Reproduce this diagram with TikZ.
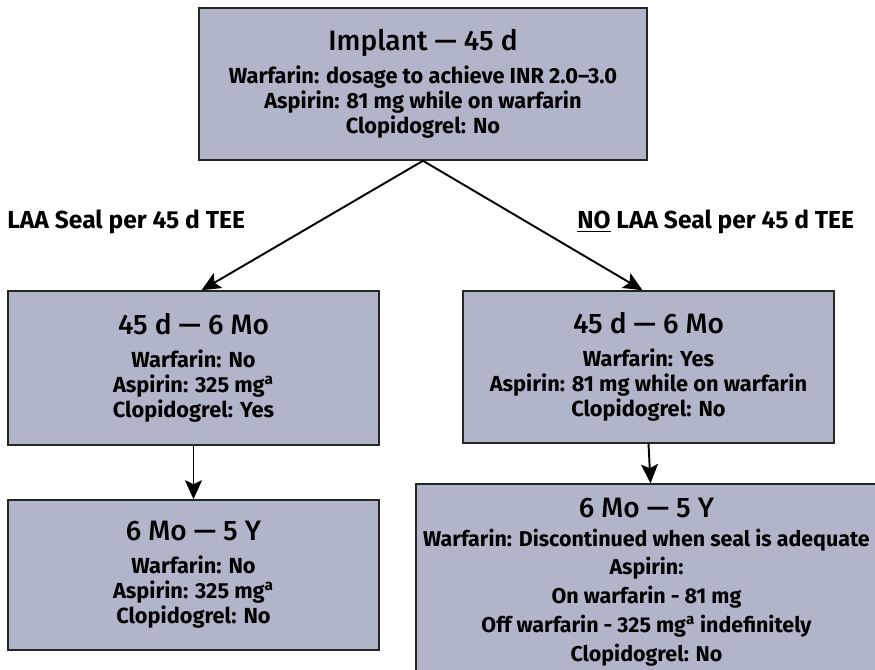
\documentclass[tikz,border=0pt]{standalone}
\usepackage{fontspec}
\setmainfont{Fira Sans}
\newfontfamily\headfont{Fira Sans Medium}
\usepackage{xcolor}
\usepackage{tikz}
\usetikzlibrary{arrows.meta}
\usetikzlibrary{positioning}
\definecolor{phasefill}{HTML}{B0B5CA}
\tikzset{
    phasebox/.style={draw=black!85,line width=0.9pt,fill=phasefill,align=center,
        inner sep=0,font=\fontsize{12.4}{14.4}\selectfont\bfseries},
    flow/.style={-{Stealth[length=3.8mm,width=3.4mm,inset=0.8mm]},line width=1.1pt},
    branch/.style={font=\fontsize{14}{16}\selectfont\bfseries,anchor=west,inner sep=0}
}
\newcommand{\phasetitle}[2][4pt]{{\fontsize{16}{20}\headfont\mdseries #2}\\[#1]}
\begin{document}
\begin{tikzpicture}[x=0.02cm,y=-0.02cm]
    \useasboundingbox (0,0) rectangle (875,669);
    \node(impl)[phasebox,minimum width=8.96cm,minimum height=3.04cm] at (423,84)
        {\phasetitle{Implant — 45 d}Warfarin: dosage to achieve INR 2.0--3.0\\Aspirin: 81 mg while on warfarin\\Clopidogrel: No};
    \node(sealmid)[phasebox,minimum width=7.42cm,minimum height=3.08cm] at (193.5,368)
        {\phasetitle{45 d — 6 Mo}Warfarin: No\\Aspirin: 325 mg\textsuperscript{a}\\Clopidogrel: Yes};
    \node(nosealmid)[phasebox,minimum width=7.42cm,minimum height=3.04cm] at (648.5,367)
        {\phasetitle{45 d — 6 Mo}Warfarin: Yes\\Aspirin: 81 mg while on warfarin\\Clopidogrel: No};
    \node(sealend)[phasebox,minimum width=7.42cm,minimum height=3.0cm] at (193.5,575)
        {\phasetitle{6 Mo — 5 Y}Warfarin: No\\Aspirin: 325 mg\textsuperscript{a}\\Clopidogrel: No};
    \node(nosealend)[phasebox,minimum width=9.22cm,minimum height=3.92cm,
        font=\fontsize{12.2}{16.4}\selectfont\bfseries] at (646.5,582)
        {\phasetitle[0pt]{6 Mo — 5 Y}Warfarin: Discontinued when seal is adequate\\Aspirin:\\On warfarin - 81 mg\\Off warfarin - 325 mg\textsuperscript{a} indefinitely\\Clopidogrel: No};

    \node(seal)[branch] at (7,222) {LAA Seal per 45 d TEE};
    \node(noseal)[branch] at (577,222) {\underline{NO} LAA Seal per 45 d TEE};

    \draw[flow] (impl.south) -- ([xshift=0.16cm]sealmid.north);
    \draw[flow] (impl.south) -- ([xshift=-0.12cm]nosealmid.north);
    \draw[flow] (sealmid.south) -- (sealend.north);
    \draw[flow] (nosealmid.south) -- ([xshift=0.08cm]nosealend.north);
\end{tikzpicture}
\end{document}
